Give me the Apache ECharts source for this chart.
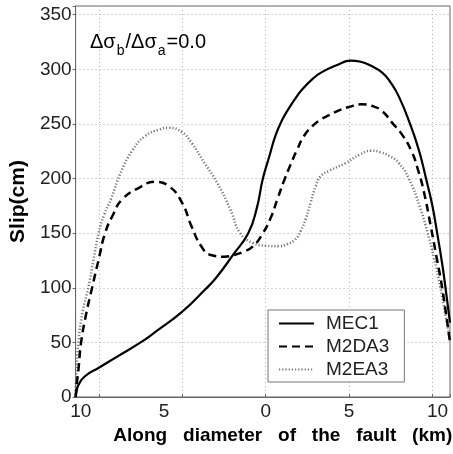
<!DOCTYPE html>
<html>
<head>
<meta charset="utf-8">
<script src="https://cdn.jsdelivr.net/npm/echarts@6/dist/echarts.min.js"></script>
<style>
html,body{margin:0;padding:0;background:#fff;}
#chart{width:453px;height:454px;}
</style>
</head>
<body>
<div id="chart"></div>
<script>
// Data (x in km along diameter, y = slip in cm)
const seriesNames = ['MEC1', 'M2DA3', 'M2EA3'];
const mec1 = [[-11.42,0],[-11.35,6],[-11.25,11],[-10.86,19],[-10.0,27],[-8.92,37],[-7.56,49.5],[-6.59,60],[-5.03,78],[-3.67,98],[-2.99,109],[-1.92,131],[-1.05,150],[-0.55,172],[-0.17,200],[0.21,220],[0.6,240],[1.0,254],[1.38,264],[1.77,273],[2.16,281],[2.8,291],[3.32,297],[4.3,304],[5.1,308],[5.7,307],[6.3,303.5],[7.0,297],[7.5,288],[8.0,275],[8.67,250],[9.2,226],[9.63,200],[10.0,176],[10.3,150],[10.6,122],[10.8,100],[11.07,68]];
const m2da3 = [[-11.42,0],[-11.35,12],[-11.25,25],[-11.09,50],[-10.8,75],[-10.43,100],[-10.05,125],[-9.65,150],[-9.2,166],[-8.62,181],[-7.56,192],[-6.68,197],[-5.81,193],[-5.03,178],[-4.45,156],[-3.87,138],[-3.3,130],[-2.5,128.5],[-1.92,130],[-1.34,133],[-0.76,138],[-0.17,150],[0.3,164],[0.7,181],[1.1,198],[1.5,213],[1.9,227],[2.3,239],[2.8,248],[3.3,254],[3.8,258],[4.4,262.5],[5.0,265.5],[5.75,268],[6.4,266.5],[7.01,261.5],[7.6,251],[8.2,240],[8.76,225],[9.15,208],[9.5,188],[9.93,155],[10.3,125],[10.6,100],[11.07,50]];
const m2ea3 = [[-11.42,0],[-11.38,20],[-11.25,50],[-11.0,78],[-10.66,100],[-10.35,125],[-10.04,150],[-9.7,167],[-9.3,181],[-8.72,205],[-8.04,225],[-7.26,238.7],[-6.39,245],[-5.81,246.5],[-5.03,242.4],[-4.45,232.6],[-3.67,214],[-2.91,196],[-2.12,171.5],[-1.53,150],[-0.76,141],[0,138.5],[0.8,138],[1.3,140],[1.75,144],[2.1,152],[2.4,163],[2.7,178],[3.0,193],[3.3,202],[3.8,207],[4.78,214],[5.65,222],[6.33,225.5],[6.91,224],[7.5,220],[7.98,214.5],[8.6,200],[9.25,174.5],[9.73,150],[10.1,128],[10.5,100],[10.8,75],[11.07,52]];
const xMin = -11.42, xMax = 11.07, xStep = 5;
const yMin = 0, yMax = 358, yStep = 50;

const FONT = "'Liberation Sans', Arial, Helvetica, sans-serif";
const chart = echarts.init(document.getElementById('chart'), null, {renderer: 'canvas'});

function onStep(v, step) { return Math.abs(v - Math.round(v / step) * step) < 1e-6; }

const lbl = {fontSize: 19, color: '#222', fontFamily: FONT};
const NB = '\u00a0';

const option = {
  animation: false,
  backgroundColor: '#fff',
  grid: {left: 67, right: 0, top: 6, bottom: 57, show: true, borderColor: '#666', borderWidth: 1, containLabel: false},
  xAxis: {
    type: 'value', min: xMin, max: xMax, minInterval: xStep, maxInterval: xStep, splitNumber: 5,
    name: 'Along   diameter   of   the   fault   (km)',
    nameLocation: 'middle', nameGap: 28,
    nameTextStyle: {fontSize: 19, fontWeight: 'bold', color: '#000', fontFamily: FONT, padding: [0, 0, 0, 40]},
    axisLine: {show: true, onZero: false, lineStyle: {color: '#666', width: 1}},
    axisTick: {show: true, inside: true, length: 3, lineStyle: {color: '#666'}},
    axisLabel: Object.assign({
      margin: 5,
      formatter: function (v) {
        if (!onStep(v, xStep)) return '';
        const a = Math.abs(Math.round(v));
        if (v < 0) return a + NB.repeat(7);
        if (a === 10) return NB + NB + a;
        return String(a);
      }
    }, lbl),
    splitLine: {show: true, lineStyle: {color: '#b0b0b0', type: [1, 3], width: 1}}
  },
  yAxis: {
    type: 'value', min: yMin, max: yMax, minInterval: yStep, maxInterval: yStep, splitNumber: 7,
    name: 'Slip(cm)', nameLocation: 'middle', nameGap: 40,
    nameTextStyle: {fontSize: 21, fontWeight: 'bold', color: '#000', fontFamily: FONT},
    axisLine: {show: true, onZero: false, lineStyle: {color: '#666', width: 1}},
    axisTick: {show: true, inside: false, length: 3, lineStyle: {color: '#666'}},
    axisLabel: Object.assign({margin: 4, formatter: function (v) { return onStep(v, yStep) ? String(Math.round(v)) : ''; }}, lbl),
    splitLine: {show: true, lineStyle: {color: '#b0b0b0', type: [1, 3], width: 1}}
  },
  legend: {
    data: seriesNames, orient: 'vertical', left: 268, top: 310,
    itemWidth: 35, itemHeight: 14, itemGap: 4,
    padding: [4, 15, 3, 10],
    borderColor: '#777', borderWidth: 1, backgroundColor: '#fff',
    selectedMode: false,
    itemStyle: {color: 'rgba(0,0,0,0)', borderWidth: 0, opacity: 0},
    textStyle: {fontSize: 19, color: '#222', fontFamily: FONT, padding: [0, 0, 0, 7]}
  },
  graphic: [{
    type: 'text', left: 90, top: 32, z: 10,
    style: {
      text: '{m|Δσ}{s|b}{m|/Δσ}{s|a}{m|=0.0}',
      rich: {
        m: {fontSize: 20, lineHeight: 20, color: '#222', fontFamily: FONT, verticalAlign: 'top'},
        s: {fontSize: 14, lineHeight: 14, color: '#222', fontFamily: FONT, verticalAlign: 'top', padding: [12, 1, 0, 1]}
      }
    }
  }],
  series: [
    {name: 'MEC1', type: 'line', data: mec1, showSymbol: false, symbol: 'none', smooth: 0.5,
     lineStyle: {color: '#000', width: 2.2, type: 'solid'}, itemStyle: {color: '#000'}, z: 3},
    {name: 'M2DA3', type: 'line', data: m2da3, showSymbol: false, symbol: 'none', smooth: 0.5,
     lineStyle: {color: '#000', width: 2.5, type: [8, 5]}, itemStyle: {color: '#000'}, z: 2},
    {name: 'M2EA3', type: 'line', data: m2ea3, showSymbol: false, symbol: 'none', smooth: 0.5,
     lineStyle: {color: '#777', width: 2.5, type: [1.2, 2]}, itemStyle: {color: '#777'}, z: 1}
  ]
};
chart.setOption(option);
</script>
</body>
</html>
